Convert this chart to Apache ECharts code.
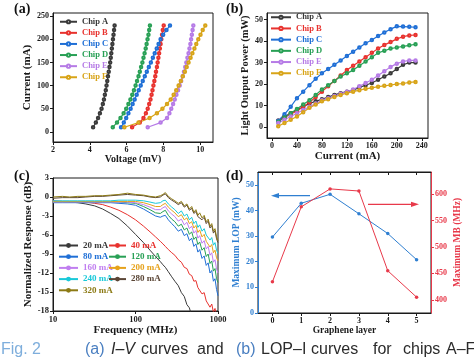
<!DOCTYPE html>
<html><head><meta charset="utf-8">
<script src="https://cdn.jsdelivr.net/npm/echarts@6/dist/echarts.min.js"></script>
<style>html,body{margin:0;padding:0;background:#fff}#c{width:474px;height:360px}</style>
</head><body><div id="c"></div>
<script>
// ---------- Panel (a) I-V and (b) LOP-I ----------
const chipNames = ['Chip A','Chip B','Chip C','Chip D','Chip E','Chip F'];
const chipColors = ['#3a3a3a','#e8322e','#1f6fd6','#28a055','#b67be6','#d8a418'];
const currentmA = [10,20,30,40,50,60,70,80,90,100,110,120,130,140,150,160,170,180,190,200,210,220,230];
const voltA = [4.18,4.33,4.45,4.55,4.64,4.71,4.77,4.82,4.87,4.91,4.95,4.99,5.03,5.07,5.11,5.14,5.17,5.20,5.23,5.26,5.29,5.32,5.35];
const voltB = [6.30,6.72,6.92,7.05,7.15,7.23,7.30,7.36,7.41,7.46,7.51,7.56,7.60,7.65,7.69,7.73,7.77,7.81,7.85,7.89,7.93,7.97,8.02];
const voltC = [5.70,5.85,5.98,6.10,6.22,6.33,6.44,6.55,6.66,6.77,6.88,6.99,7.10,7.21,7.32,7.43,7.53,7.64,7.74,7.85,7.99,8.17,8.36];
const voltD = [5.25,5.48,5.67,5.84,5.98,6.10,6.21,6.31,6.40,6.49,6.57,6.65,6.72,6.79,6.86,6.92,6.98,7.04,7.09,7.14,7.19,7.23,7.27];
const voltE = [7.15,7.85,8.20,8.33,8.43,8.53,8.62,8.71,8.80,8.89,8.97,9.05,9.12,9.19,9.25,9.31,9.37,9.42,9.47,9.51,9.55,9.59,9.63];
const voltF = [5.88,6.65,7.25,7.65,7.95,8.20,8.40,8.56,8.70,8.83,8.95,9.06,9.17,9.27,9.37,9.48,9.58,9.69,9.79,9.90,10.02,10.14,10.28];
const lopA = [3,5,6.5,8,9.5,11,12,13,14,15,15.8,16.5,17.2,18.5,19.5,20.5,22,23.5,25,27,29,30,30];
const lopB = [3,4.5,6,7.5,9.5,11.5,14,16.5,19,21.5,24,26.5,28.5,30.5,32.5,34.5,36.5,38.2,39.5,41,42,42.6,42.8];
const lopC = [3,6,9.5,13.5,16.5,19.5,22.5,25,27,29,31,33,35,37,39,40.5,42.3,44,45.5,46.8,46.7,46.6,46.4];
const lopD = [2.5,4.5,6.5,8.5,10.5,12.5,15,17.5,19.5,21.5,23.5,25,26.5,28.5,30.5,32.5,34.5,35.5,36.5,37,37.5,38,38.5];
const lopE = [2,3.5,5,6.5,8,9.5,11,12.5,13.5,14.5,15.5,16.5,17.5,19,20.5,22,24,26,28,29.5,30.5,31,31];
const lopF = [0.5,2,3.5,5,7,9,10.5,12,13,14,15,15.8,16.5,17.2,17.8,18.3,18.8,19.2,19.6,20,20.3,20.8,21];
const voltAll = [voltA,voltB,voltC,voltD,voltE,voltF];
const lopAll = [lopA,lopB,lopC,lopD,lopE,lopF];
const ticksV = [2,4,6,8,10];
const ticksI = [0,50,100,150,200,250];
const ticksIb = [0,40,80,120,160,200,240];
const ticksP = [0,10,20,30,40,50];

// ---------- Panel (c) frequency response ----------
const freqMHz = [10,13,16,20,25,32,40,50,63,80,100,125,150,175,200,215,230,250,275,300,330,360,390,420,450,480,510,540,570,600,640,680,720,760,800,840,880,920,960,1000];
const respNames = ['20 mA','40 mA','80 mA','120 mA','160 mA','200 mA','240 mA','280 mA','320 mA'];
const respColors = ['#3a3a3a','#e8322e','#1f6fd6','#28a055','#c07ef0','#e6a21b','#19c9d9','#5b4636','#8c7a14'];
const r20 = [-0.7,-0.7,-0.8,-0.9,-1.1,-1.4,-1.9,-2.6,-3.4,-4.6,-5.9,-7.2,-8.4,-9.4,-10.2,-10.7,-11.1,-11.8,-12.6,-13.3,-14.0,-15.1,-15.7,-17.0,-17.5,-18.8,-19.5,null,null,null,null,null,null,null,null,null,null,null,null,null];
const r40 = [-0.6,-0.7,-0.7,-0.8,-0.8,-1.0,-1.2,-1.6,-2.1,-2.8,-3.6,-4.6,-5.5,-6.3,-7.0,-7.4,-7.8,-8.3,-8.8,-9.2,-9.9,-10.3,-11.1,-11.3,-12.2,-12.4,-13.3,-13.2,-14.3,-14.1,-15.3,-15.1,-16.4,-16.1,-17.4,-16.9,-18.2,-17.6,-18.8,-19.4];
const r80 = [-0.9,-0.9,-0.9,-0.9,-0.9,-0.9,-0.9,-0.9,-1.0,-1.1,-1.3,-1.9,-2.5,-3.0,-3.2,-3.0,-2.9,-3.6,-4.2,-4.7,-5.4,-5.1,-6.1,-5.8,-6.9,-6.5,-7.8,-7.4,-8.7,-8.3,-9.7,-9.3,-10.8,-10.4,-12.0,-11.6,-13.3,-12.9,-14.6,-15.6];
const r120 = [-0.8,-0.8,-0.8,-0.8,-0.8,-0.8,-0.8,-0.8,-0.8,-0.9,-1.0,-1.5,-2.0,-2.5,-2.6,-2.3,-2.1,-2.9,-3.5,-3.9,-4.6,-4.3,-5.2,-4.9,-5.9,-5.5,-6.7,-6.3,-7.5,-7.1,-8.4,-8.0,-9.4,-9.0,-10.5,-10.1,-11.7,-11.3,-12.9,-13.5];
const r160 = [-0.8,-0.8,-0.8,-0.8,-0.8,-0.8,-0.8,-0.8,-0.8,-0.8,-0.9,-1.2,-1.6,-2.0,-2.0,-1.7,-1.5,-2.2,-2.7,-3.1,-3.8,-3.5,-4.4,-4.0,-5.0,-4.6,-5.7,-5.3,-6.5,-6.1,-7.3,-6.9,-8.2,-7.8,-9.2,-8.8,-10.3,-9.9,-11.4,-12.0];
const r200 = [-0.7,-0.7,-0.7,-0.7,-0.7,-0.7,-0.7,-0.7,-0.7,-0.7,-0.7,-0.9,-1.2,-1.5,-1.5,-1.2,-1.0,-1.6,-2.1,-2.5,-3.1,-2.8,-3.6,-3.3,-4.2,-3.9,-4.9,-4.5,-5.6,-5.2,-6.3,-5.9,-7.0,-6.7,-7.9,-7.5,-8.8,-8.4,-9.6,-10.1];
const r240 = [-0.6,-0.6,-0.6,-0.6,-0.6,-0.6,-0.6,-0.6,-0.5,-0.5,-0.5,-0.6,-0.8,-1.0,-0.9,-0.6,-0.5,-1.1,-1.6,-2.0,-2.6,-2.2,-3.0,-2.7,-3.6,-3.2,-4.2,-3.8,-4.8,-4.4,-5.4,-5.0,-6.0,-5.7,-6.8,-6.4,-7.6,-7.2,-8.4,-8.9];
const r280 = [-0.2,-0.1,-0.1,-0.1,0.0,0.1,0.1,0.2,0.3,0.4,0.3,0.2,0.0,-0.1,0.0,0.3,0.5,-0.1,-0.5,-0.8,-1.2,-0.9,-1.6,-1.3,-2.1,-1.8,-2.6,-2.3,-3.1,-2.8,-3.6,-3.2,-4.2,-3.8,-4.9,-4.5,-5.7,-5.3,-6.6,-7.2];
const r320 = [0.0,0.1,0.0,0.1,0.1,0.2,0.2,0.3,0.4,0.6,0.4,0.3,0.1,0.0,0.2,0.4,0.7,0.1,-0.3,-0.6,-1.0,-0.7,-1.4,-1.1,-1.9,-1.5,-2.4,-2.0,-2.9,-2.5,-3.3,-2.9,-3.9,-3.5,-4.6,-4.2,-5.4,-5.0,-6.3,-6.9];
const respAll = [r20,r40,r80,r120,r160,r200,r240,r280,r320];

// ---------- Panel (d) ----------
const layers = ['0','1','2','3','4','5'];
const maxLOP = [29.6,42.8,46.3,38.7,31.0,20.8];
const maxMB = [434,576,610,606,455,405];
const ticksLOP = [0,10,20,30,40,50];
const ticksMB = [400,450,500,550,600];

const F = '"Liberation Serif","Times New Roman",serif';
const SANS = '"Liberation Sans",Arial,sans-serif';
const BLK = '#1a1a1a';
const BLUE = '#2f7fd1';
const RED = '#e8394a';

function merge(a,b){
  const o = Object.assign({}, a);
  for (const k in b){
    if (b[k] && typeof b[k]==='object' && !Array.isArray(b[k]) && a[k] && typeof a[k]==='object') o[k]=merge(a[k],b[k]);
    else o[k]=b[k];
  }
  return o;
}
function ax(color, extra){
  return merge({
    axisLine:{show:true,onZero:false,lineStyle:{color:color,width:1}},
    axisTick:{show:true,inside:false,length:3,lineStyle:{color:color}},
    axisLabel:{color:color,fontFamily:F,fontWeight:'bold',fontSize:8,margin:4,formatter:v=>String(v)},
    splitLine:{show:false},
    nameLocation:'middle',
    nameTextStyle:{color:color,fontFamily:F,fontWeight:'bold',fontSize:10}
  }, extra);
}
function grid(l,t,w,h){
  return {left:l,top:t,width:w,height:h,show:true,borderColor:BLK,borderWidth:1,backgroundColor:'transparent',containLabel:false,outerBoundsMode:'none'};
}

const series = [];
chipNames.forEach((n,i)=>{
  series.push({type:'line',name:n,xAxisIndex:0,yAxisIndex:0,
    data: currentmA.map((c,j)=>[voltAll[i][j], c]),
    symbol:'emptyCircle',symbolSize:2.5,
    lineStyle:{width:1.2,color:chipColors[i]},itemStyle:{color:chipColors[i],borderWidth:0.8}});
});
chipNames.forEach((n,i)=>{
  series.push({type:'line',name:n,xAxisIndex:1,yAxisIndex:1,
    data: currentmA.map((c,j)=>[c, lopAll[i][j]]),
    symbol:'emptyCircle',symbolSize:2.5,
    lineStyle:{width:1.2,color:chipColors[i]},itemStyle:{color:chipColors[i],borderWidth:0.8}});
});
respNames.forEach((n,i)=>{
  series.push({type:'line',name:n,xAxisIndex:2,yAxisIndex:2,
    data: freqMHz.map((f,j)=>[f, respAll[i][j]]),
    showSymbol:false,symbol:'none',clip:true,connectNulls:false,
    lineStyle:{width:1,color:respColors[i]},itemStyle:{color:respColors[i]}});
});
series.push({type:'line',name:'Maximum LOP',xAxisIndex:3,yAxisIndex:3,data:maxLOP,
  symbol:'circle',symbolSize:3.5,lineStyle:{width:1,color:BLUE},itemStyle:{color:BLUE}});
series.push({type:'line',name:'Maximum MB',xAxisIndex:3,yAxisIndex:4,data:maxMB,
  symbol:'circle',symbolSize:3.5,lineStyle:{width:1,color:RED},itemStyle:{color:RED}});

function leg(names, colors, left, top, iw, gap, fs, ih){
  return {show:true,orient:'vertical',left:left,top:top,padding:0,itemWidth:iw,itemHeight:ih,itemGap:gap,
    selectedMode:false,textStyle:{fontFamily:F,fontWeight:'bold',fontSize:fs,lineHeight:fs+1},
    data:names.map((n,i)=>({name:n,textStyle:{color:colors[i]}}))};
}

const option = {
  animation:false,
  backgroundColor:'#fff',
  grid:[grid(53,13,160,129),grid(267,13,161,125),grid(53,178,165,133),grid(258,172,173,141)],
  xAxis:[
    ax(BLK,{type:'value',gridIndex:0,min:2,max:10.7,name:'Voltage (mV)',nameGap:11,
      axisLabel:{customValues:ticksV},axisTick:{customValues:ticksV}}),
    ax(BLK,{type:'value',gridIndex:1,min:-8,max:250,name:'Current (mA)',nameGap:12,nameTextStyle:{fontSize:11},
      axisLabel:{customValues:ticksIb},axisTick:{customValues:ticksIb}}),
    ax(BLK,{type:'log',logBase:10,gridIndex:2,min:10,max:1000,name:'Frequency (MHz)',nameGap:11,nameTextStyle:{fontSize:11},
      axisLabel:{fontSize:8.5}}),
    ax(BLK,{type:'category',gridIndex:3,data:layers,boundaryGap:true,name:'Graphene layer',nameGap:11,nameTextStyle:{fontSize:9.5},
      axisTick:{alignWithLabel:true}}),
    ax(BLK,{type:'category',gridIndex:3,data:layers,boundaryGap:true,position:'top',
      axisLabel:{show:false},axisTick:{alignWithLabel:true,inside:true}})
  ],
  yAxis:[
    ax(BLK,{type:'value',gridIndex:0,min:-22,max:257,name:'Current (mA)',nameGap:17,nameTextStyle:{fontSize:11},
      axisLabel:{customValues:ticksI},axisTick:{customValues:ticksI}}),
    ax(BLK,{type:'value',gridIndex:1,min:-5,max:53,name:'Light Output Power (mW)',nameGap:15,nameTextStyle:{fontSize:10.5},
      axisLabel:{customValues:ticksP},axisTick:{customValues:ticksP}}),
    ax(BLK,{type:'value',gridIndex:2,min:-18,max:3,interval:3,name:'Normalized Response (dB)',nameGap:17,nameTextStyle:{fontSize:11},
      axisLabel:{fontSize:8.5}}),
    ax(BLUE,{type:'value',gridIndex:3,min:0,max:55,name:'Maximum LOP (mW)',nameGap:16,nameTextStyle:{fontSize:9.5},
      axisLabel:{customValues:ticksLOP},axisTick:{customValues:ticksLOP}}),
    ax(RED,{type:'value',gridIndex:3,position:'right',min:375,max:642,name:'Maximum MB (MHz)',nameGap:22,nameTextStyle:{fontSize:9.5},
      axisLabel:{customValues:ticksMB},axisTick:{customValues:ticksMB}})
  ],
  legend:[
    leg(chipNames,chipColors,59,17,17,1.6,8.5,4),
    leg(chipNames,chipColors,270,12.5,20,1.7,8.5,4),
    leg(['20 mA','80 mA','160 mA','240 mA','320 mA'],[respColors[0],respColors[2],respColors[4],respColors[6],respColors[8]],58,240.5,19,1.2,9,6),
    leg(['40 mA','120 mA','200 mA','280 mA'],[respColors[1],respColors[3],respColors[5],respColors[7]],108,240.5,17,1.2,9,6)
  ],
  series:series,
  graphic:[
    {type:'text',left:14,top:2,style:{text:'(a)',font:'bold 14px '+F,fill:'#111'}},
    {type:'text',left:226,top:2,style:{text:'(b)',font:'bold 14px '+F,fill:'#111'}},
    {type:'text',left:14,top:169,style:{text:'(c)',font:'bold 14px '+F,fill:'#111'}},
    {type:'text',left:226,top:169,style:{text:'(d)',font:'bold 14px '+F,fill:'#111'}},
    {type:'line',shape:{x1:310,y1:195.7,x2:277,y2:195.7},style:{stroke:BLUE,lineWidth:1.3}},
    {type:'polygon',shape:{points:[[271,195.7],[279,193.1],[279,198.3]]},style:{fill:BLUE}},
    {type:'line',shape:{x1:368,y1:204.3,x2:413,y2:204.3},style:{stroke:RED,lineWidth:1.3}},
    {type:'polygon',shape:{points:[[419,204.3],[411,201.7],[411,206.9]]},style:{fill:RED}},
    {type:'text',x:1,y:350,style:{text:'Fig. 2',font:'16px '+SANS,fill:'#7eaedc',verticalAlign:'middle'}},
    {type:'text',x:85,y:350,style:{text:'(a)',font:'16px '+SANS,fill:'#4a7fc1',verticalAlign:'middle'}},
    {type:'text',x:111,y:350,style:{text:'I–V',font:'italic 16px '+SANS,fill:'#2b2b2b',verticalAlign:'middle'}},
    {type:'text',x:141,y:350,style:{text:'curves',font:'16px '+SANS,fill:'#2b2b2b',verticalAlign:'middle'}},
    {type:'text',x:197,y:350,style:{text:'and',font:'16px '+SANS,fill:'#2b2b2b',verticalAlign:'middle'}},
    {type:'text',x:236,y:350,style:{text:'(b)',font:'16px '+SANS,fill:'#4a7fc1',verticalAlign:'middle'}},
    {type:'text',x:261,y:350,style:{text:'LOP–I',font:'16px '+SANS,fill:'#2b2b2b',verticalAlign:'middle'}},
    {type:'text',x:311,y:350,style:{text:'curves',font:'16px '+SANS,fill:'#2b2b2b',verticalAlign:'middle'}},
    {type:'text',x:373,y:350,style:{text:'for',font:'16px '+SANS,fill:'#2b2b2b',verticalAlign:'middle'}},
    {type:'text',x:403,y:350,style:{text:'chips',font:'16px '+SANS,fill:'#2b2b2b',verticalAlign:'middle'}},
    {type:'text',x:446,y:350,style:{text:'A–F',font:'16px '+SANS,fill:'#2b2b2b',verticalAlign:'middle'}}
  ]
};
const chart = echarts.init(document.getElementById('c'));
chart.setOption(option);
</script>
</body></html>
